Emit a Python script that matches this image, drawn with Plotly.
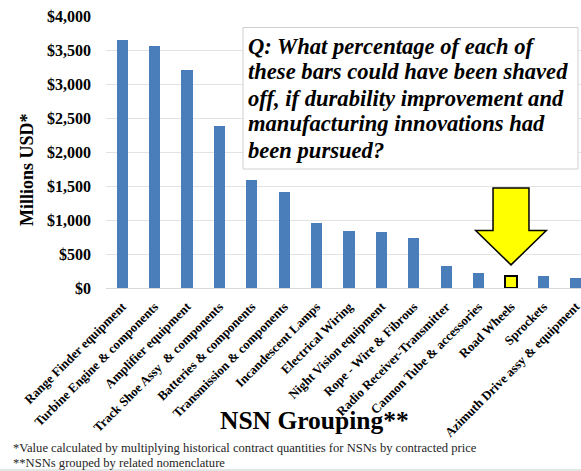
import plotly.graph_objects as go

# ---------------- data ----------------
categories = [
    "Range Finder equipment",
    "Turbine Engine & components",
    "Amplifier equipment",
    "Track Shoe Assy  & components",
    "Batteries & components",
    "Transmission & components",
    "Incandescent Lamps",
    "Electrical Wiring",
    "Night Vision equipment",
    "Rope - Wire & Fibrous",
    "Radio Receiver-Transmitter",
    "Cannon Tube & accessories",
    "Road Wheels",
    "Sprockets",
    "Azimuth Drive assy & equipment",
]
values = [3654, 3560, 3213, 2386, 1594, 1408, 954, 841, 822, 734, 317, 214, 180, 170, 151]
highlight = "Road Wheels"

y_tick_vals = [0, 500, 1000, 1500, 2000, 2500, 3000, 3500, 4000]
y_tick_text = ["$0", "$500", "$1,000", "$1,500", "$2,000", "$2,500", "$3,000", "$3,500", "$4,000"]

question_lines = [
    "Q: What percentage of each of",
    "these bars could have been shaved",
    "off, if durability improvement and",
    "manufacturing innovations had",
    "been pursued?",
]
footnotes = [
    "*Value calculated by multiplying historical contract quantities for NSNs by contracted price",
    "**NSNs grouped by related nomenclature",
]

# ---------------- layout constants ----------------
W, H = 581, 471
ML, MR, MT, MB = 106, 0, 16, 183
PW, PH = W - ML - MR, H - MT - MB
SERIF = "Liberation Serif"
BLUE = "#4a7ebb"


def px_x(p):
    return (p - ML) / PW


def px_y(p):
    return 1 - (p - MT) / PH


colors = ["#ffff00" if c == highlight else BLUE for c in categories]
line_colors = ["black" if c == highlight else BLUE for c in categories]
line_widths = [2 if c == highlight else 0 for c in categories]

fig = go.Figure(
    go.Bar(
        x=categories,
        y=values,
        width=0.34,
        marker=dict(color=colors, line=dict(color=line_colors, width=line_widths)),
        hoverinfo="x+y",
    )
)

# Arrow pointing at the highlighted bar (data coords relative to that bar)
hi = categories.index(highlight)
hv = values[hi]
tip_y = hv + 160
head_y = hv + 665
top_y = hv + 1290
shaft = 0.555
head = 1.09
path = (
    f"M {hi - shaft},{top_y} L {hi + shaft},{top_y} L {hi + shaft},{head_y} "
    f"L {hi + head},{head_y} L {hi},{tip_y} L {hi - head},{head_y} "
    f"L {hi - shaft},{head_y} Z"
)
shapes = [
    dict(type="path", xref="x", yref="y", path=path,
         fillcolor="#ffff00", line=dict(color="black", width=1.5), layer="above"),
    # question box
    dict(type="rect", xref="paper", yref="paper",
         x0=px_x(243), x1=px_x(578), y0=px_y(169), y1=px_y(27.5),
         fillcolor="white", line=dict(color="#d0d0d0", width=1), layer="above"),
    # bottom separator line
    dict(type="line", xref="paper", yref="paper",
         x0=px_x(0), x1=px_x(W), y0=px_y(470), y1=px_y(470),
         line=dict(color="#dddddd", width=1.5)),
]

annotations = []
for i, ln in enumerate(question_lines):
    annotations.append(dict(
        text=f"<b><i>{ln}</i></b>", xref="paper", yref="paper",
        x=px_x(246), y=px_y(46 + 26 * i), xanchor="left", yanchor="middle",
        showarrow=False, font=dict(family=SERIF, size=22.6, color="black"),
    ))

annotations.append(dict(
    text="<b>NSN Grouping**</b>", xref="paper", yref="paper",
    x=px_x(314), y=px_y(420), xanchor="center", yanchor="middle",
    showarrow=False, font=dict(family=SERIF, size=25.5, color="black"),
))
annotations.append(dict(
    text="<b>Millions USD*</b>", xref="paper", yref="paper",
    x=px_x(27), y=px_y(170), xanchor="center", yanchor="middle", textangle=-90,
    showarrow=False, font=dict(family=SERIF, size=18, color="black"),
))
for i, fn in enumerate(footnotes):
    annotations.append(dict(
        text=fn, xref="paper", yref="paper",
        x=px_x(11), y=px_y(448 + 15 * i), xanchor="left", yanchor="middle",
        showarrow=False, font=dict(family=SERIF, size=12.6, color="#262626"),
    ))

fig.update_layout(
    width=W, height=H,
    margin=dict(l=ML, r=MR, t=MT, b=MB, autoexpand=False),
    paper_bgcolor="white", plot_bgcolor="white",
    font=dict(family=SERIF),
    showlegend=False,
    shapes=shapes,
    annotations=annotations,
    bargap=0,
    xaxis=dict(
        range=[-0.5, -0.5 + PW / 32.4],
        tickangle=-45,
        tickfont=dict(family=SERIF, size=12.9, color="black", weight="bold"),
        showline=True, linecolor="#d9d9d9", linewidth=1,
        showgrid=False, ticks="", fixedrange=True, automargin=False,
        ticklabelstandoff=5,
    ),
    yaxis=dict(
        range=[0, 4000],
        tickvals=y_tick_vals, ticktext=y_tick_text,
        tickfont=dict(family=SERIF, size=16, color="black", weight="bold"),
        showgrid=True, gridcolor="#e3e3e3", gridwidth=1,
        zeroline=False, showline=False, ticks="",
        ticklabelstandoff=14, fixedrange=True, automargin=False,
    ),
)

fig.write_html(
    "out.html",
    config={"displayModeBar": False},
    post_script="document.body.style.margin='0';document.body.style.overflow='hidden';",
)
